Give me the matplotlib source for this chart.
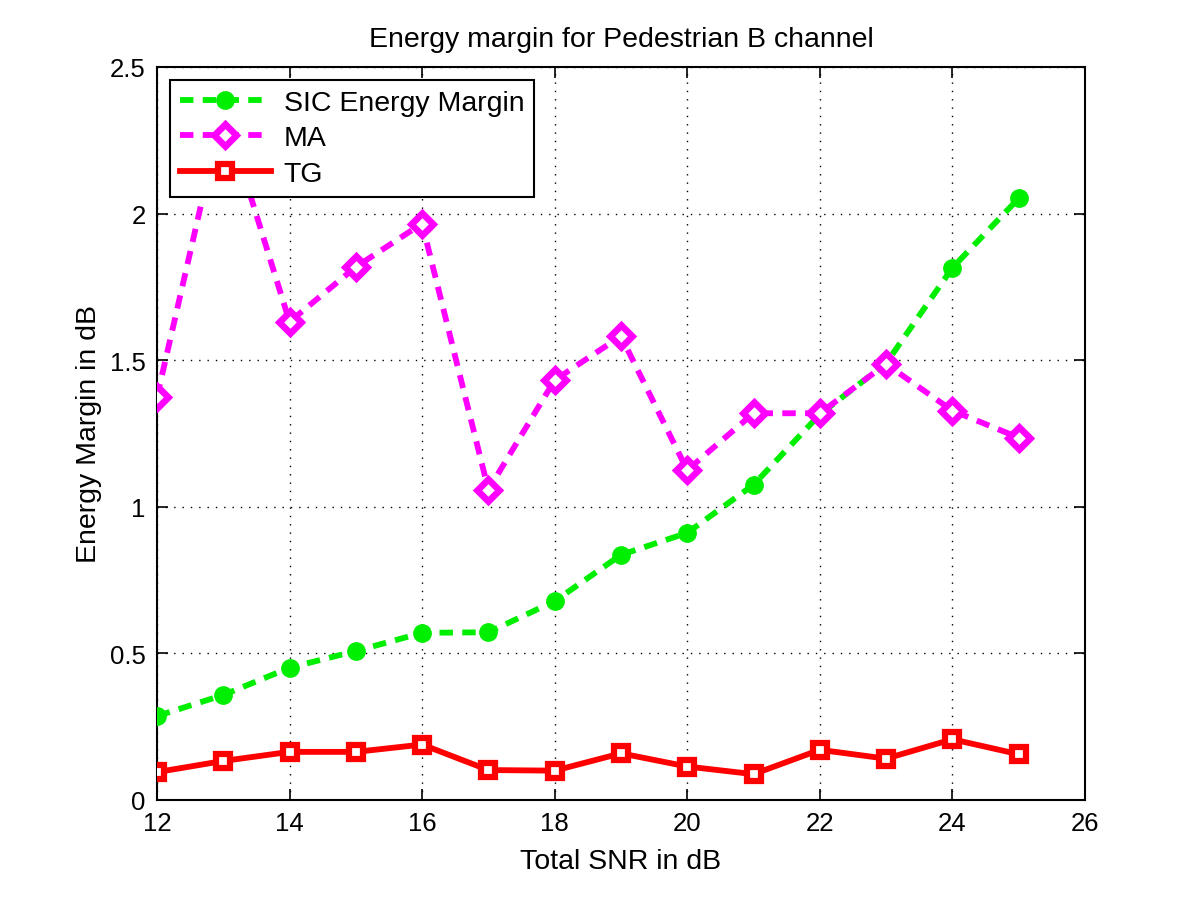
import matplotlib
matplotlib.use("Agg")
import matplotlib.pyplot as plt

snr = [12, 13, 14, 15, 16, 17, 18, 19, 20, 21, 22, 23, 24, 25]
sic = [0.286, 0.358, 0.451, 0.508, 0.570, 0.572, 0.678, 0.836, 0.911, 1.075, 1.315, 1.489, 1.815, 2.052]
ma = [1.374, 2.36, 1.631, 1.818, 1.966, 1.058, 1.432, 1.582, 1.125, 1.319, 1.319, 1.487, 1.328, 1.236]
tg = [0.095, 0.133, 0.164, 0.164, 0.189, 0.102, 0.100, 0.159, 0.114, 0.088, 0.171, 0.141, 0.207, 0.156]

xticks = [12, 14, 16, 18, 20, 22, 24, 26]
yticks = [0, 0.5, 1, 1.5, 2, 2.5]
yticklabels = ["0", "0.5", "1", "1.5", "2", "2.5"]

plt.rcParams['font.family'] = ['Liberation Sans', 'DejaVu Sans']

fig = plt.figure(figsize=(12, 9.03), dpi=100)
ax = fig.add_axes([0.1308, 0.113, 0.7733, 0.8117])

green = '#00ee00'
mag = '#ff00ff'
red = '#ff0000'
dash = (0, (2.3, 1.6))

ax.plot(snr, sic, color=green, lw=4.2, linestyle=dash, marker='o', markersize=12.5,
        markerfacecolor=green, markeredgecolor=green, markeredgewidth=1, label='SIC Energy Margin', zorder=3)
ax.plot(snr, ma, color=mag, lw=4.2, linestyle=dash, marker='D', markersize=11.5,
        markerfacecolor='white', markeredgecolor=mag, markeredgewidth=4.8, label='MA', zorder=4)
ax.plot(snr, tg, color=red, lw=4.2, linestyle='-', marker='s', markersize=10.5,
        markerfacecolor='white', markeredgecolor=red, markeredgewidth=4.5, label='TG', zorder=5)

ax.set_xlim(12, 26)
ax.set_ylim(0, 2.5)
ax.set_xticks(xticks)
ax.set_xticklabels([str(t) for t in xticks])
ax.set_yticks(yticks)
ax.set_yticklabels(yticklabels)
ax.grid(True, color='black', linestyle=(0, (1, 5)), linewidth=1.0)
ax.tick_params(direction='in', length=8, width=1.2, top=True, right=True, labelsize=18.5, pad=8)
for s in ax.spines.values():
    s.set_linewidth(1.5)

ax.set_title('Energy margin for Pedestrian B channel', fontsize=20.5, pad=15)
ax.set_xlabel('Total SNR in dB', fontsize=20.5, labelpad=9)
ax.set_ylabel('Energy Margin in dB', fontsize=20.5, labelpad=6)

leg = ax.legend(loc='upper left', fontsize=20.5, frameon=True, fancybox=False, framealpha=1,
                edgecolor='black', handlelength=3.2, borderpad=0.35, labelspacing=0.33,
                handletextpad=0.45, borderaxespad=0.45)
leg.get_frame().set_linewidth(1.5)
leg.set_zorder(10)

fig.savefig('out.png', dpi=100)
